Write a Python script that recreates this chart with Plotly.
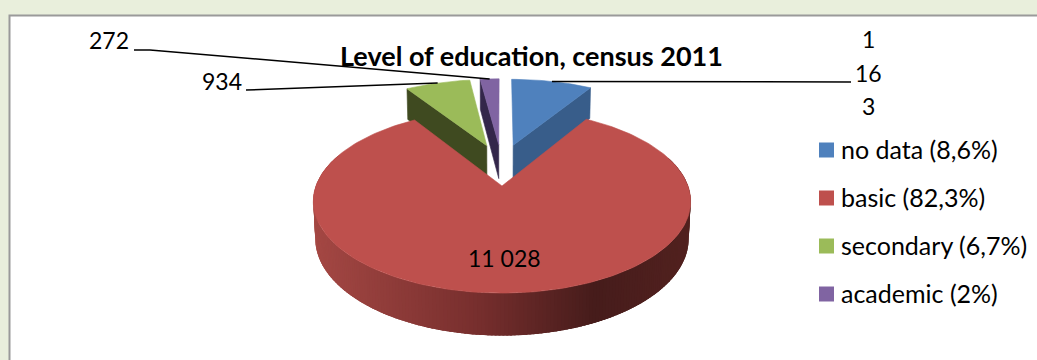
import math
import plotly.graph_objects as go

# Census figures
categories = ["no data", "basic", "secondary", "academic"]
counts = [1163, 11028, 934, 272]
legend_labels = ["no data (8,6%)", "basic (82,3%)", "secondary (6,7%)", "academic (2%)"]
value_labels = ["1<br>163", "11 028", "934", "272"]
wrapped_first_label = ["1", "16", "3"]
title_text = "Level of education, census 2011"

# Slice styling
top_colors = ["#4F81BD", "#BE504D", "#9BBB59", "#8064A2"]
wall_colors = ["#385D8A", "#4A1D1C", "#3F4A20", "#33264A"]
rim_shades = [(0.0, (165, 72, 68)), (0.45, (118, 46, 45)), (0.75, (70, 28, 27)), (1.0, (82, 33, 31))]

# Camera and pie geometry, in pixels of the chart frame
CX, CY = 501.5, 164.4
RADIUS = 178.5
EXPLODE = 45.0
TILT = 0.46
PERSPECTIVE = 0.0009
THICKNESS = 35.6
DEPTH_SCALE = 0.01
FONT = "Lato"
LABEL_SIZE = 23
LEGEND_SIZE = 25
TITLE_SIZE = 27
KEY_SWATCH_X = 826.5
KEY_TEXT_X = 839
KEY_TOP = 150
KEY_ROW = 48


def project(wx, wy, lower=False):
    w = 1 - PERSPECTIVE * wy + (DEPTH_SCALE if lower else 0)
    return CX + wx / w, CY + (TILT * wy + (THICKNESS if lower else 0)) / w


def rim_world(angle, apex):
    rad = math.radians(angle)
    return apex[0] + RADIUS * math.sin(rad), apex[1] - RADIUS * math.cos(rad)


def arc_angles(start, end, step=1.5):
    n = max(2, int((end - start) / step))
    return [start + (end - start) * i / n for i in range(n + 1)]


def shade(t):
    for (t0, c0), (t1, c1) in zip(rim_shades, rim_shades[1:]):
        if t <= t1:
            f = (t - t0) / (t1 - t0)
            return "rgb(%d,%d,%d)" % tuple(round(a + (b - a) * f) for a, b in zip(c0, c1))
    return "rgb(%d,%d,%d)" % rim_shades[-1][1]


def polygon(points, color, outline=0.6):
    return go.Scatter(
        x=[p[0] for p in points] + [points[0][0]],
        y=[p[1] for p in points] + [points[0][1]],
        mode="lines",
        fill="toself",
        fillcolor=color,
        line=dict(color=color, width=outline),
        hoverinfo="skip",
        showlegend=False,
    )


total = sum(counts)
slices = []
cursor = 0.0
for count in counts:
    sweep = 360.0 * count / total
    mid = math.radians(cursor + sweep / 2)
    apex = (EXPLODE * math.sin(mid), -EXPLODE * math.cos(mid))
    slices.append(dict(start=cursor, end=cursor + sweep, mid=cursor + sweep / 2, apex=apex))
    cursor += sweep

fig = go.Figure()

# Far slices first, the large front slice last
for index in [0, 2, 3, 1]:
    s = slices[index]
    apex = s["apex"]
    if index == 1:
        # Outer rim of the front slice, shaded from left to right; the bands
        # overlap their neighbour so no seams show between them
        angles = arc_angles(s["start"], s["end"], step=1.0)
        for a0, a1 in zip(angles, angles[1:]):
            if math.cos(math.radians(a0)) > 0.35:
                continue
            p0 = rim_world(a0, apex)
            p1 = rim_world(a1 + 1.5, apex)
            quad = [project(*p0), project(*p1), project(*p1, lower=True), project(*p0, lower=True)]
            t = (project(*p0)[0] - (CX - 190)) / 380
            fig.add_trace(polygon(quad, shade(min(1, max(0, t))), outline=0))
    else:
        # Cut face turned towards the viewer
        edge = s["end"] if apex[0] > 0 else s["start"]
        outer = rim_world(edge, apex)
        fig.add_trace(polygon(
            [project(*apex), project(*outer), project(*outer, lower=True), project(*apex, lower=True)],
            wall_colors[index],
        ))
    top = [project(*apex)] + [project(*rim_world(a, apex)) for a in arc_angles(s["start"], s["end"])]
    fig.add_trace(polygon(top, top_colors[index]))

# Colour key down the right-hand side
for row, (category, color) in enumerate(zip(categories, top_colors)):
    fig.add_trace(go.Scatter(
        x=[KEY_SWATCH_X], y=[KEY_TOP + row * KEY_ROW], mode="markers", name=category,
        marker=dict(symbol="square", size=15, color=color, line=dict(width=0)),
        hoverinfo="skip", showlegend=False,
    ))

# Leader lines run from each small slice's rim to its label
leader_starts = {0: [(851, 82)], 2: [(246, 90)], 3: [(134, 50), (150, 50)]}
for index, path in leader_starts.items():
    s = slices[index]
    end = project(*rim_world(s["mid"], s["apex"]))
    pts = path + [end]
    fig.add_trace(go.Scatter(
        x=[p[0] for p in pts], y=[p[1] for p in pts], mode="lines",
        line=dict(color="#000000", width=1.5), hoverinfo="skip", showlegend=False,
    ))

text_items = [
    (868, 39, wrapped_first_label[0], "center"),
    (868, 73, wrapped_first_label[1], "center"),
    (868, 106, wrapped_first_label[2], "center"),
    (504, 258, value_labels[1], "center"),
    (244, 81, value_labels[2], "right"),
    (131, 40, value_labels[3], "right"),
]
annotations = [
    dict(x=x, y=y, text=t, xanchor=anchor, yanchor="middle", showarrow=False,
         font=dict(family=FONT, size=LABEL_SIZE, color="#000000"))
    for x, y, t, anchor in text_items
]
annotations.append(dict(
    x=531, y=55, text="<b>%s</b>" % title_text, xanchor="center", yanchor="middle", showarrow=False,
    font=dict(family=FONT, size=TITLE_SIZE, color="#000000"),
))
for row, label in enumerate(legend_labels):
    annotations.append(dict(
        x=KEY_TEXT_X, y=KEY_TOP + row * KEY_ROW - 1, text=label, xanchor="left", yanchor="middle",
        showarrow=False, font=dict(family=FONT, size=LEGEND_SIZE, color="#000000"),
    ))

fig.update_layout(
    width=1037,
    height=360,
    margin=dict(l=0, r=0, t=0, b=0),
    paper_bgcolor="#E9EFDC",
    plot_bgcolor="#E9EFDC",
    xaxis=dict(range=[0, 1037], visible=False, fixedrange=True),
    yaxis=dict(range=[360, 0], visible=False, fixedrange=True),
    shapes=[dict(type="rect", layer="below", x0=9.5, y0=15.5, x1=1045, y1=370,
                 fillcolor="#FFFFFF", line=dict(color="#9A9A9A", width=2))],
    annotations=annotations,
    showlegend=False,
)

fig.write_html("out.html")
